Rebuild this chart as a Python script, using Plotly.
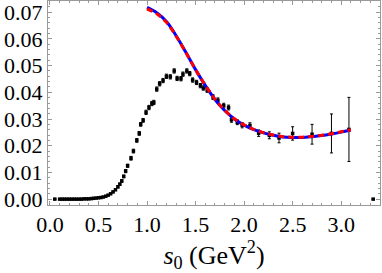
import plotly.graph_objects as go

# Data points (s0 in GeV^2, value, error)
s_data = [0.05, 0.10, 0.125, 0.15, 0.175, 0.20, 0.225, 0.25, 0.275, 0.30, 0.325, 0.35,
          0.375, 0.40, 0.425, 0.45, 0.475, 0.50, 0.525, 0.55, 0.575, 0.60, 0.625, 0.65,
          0.675, 0.70, 0.72, 0.74, 0.76, 0.78, 0.80, 0.835, 0.86, 0.895, 0.92, 0.935,
          0.96, 0.99, 1.02, 1.05, 1.07, 1.10, 1.13, 1.165, 1.20, 1.24, 1.28, 1.31,
          1.35, 1.37, 1.41, 1.44, 1.47, 1.51, 1.55, 1.58, 1.62, 1.68, 1.73, 1.79,
          1.84, 1.87, 1.93, 1.98, 2.06, 2.15, 2.26, 2.36, 2.50, 2.70, 2.90, 3.08, 3.33]
y_data = [0.0, 0.0, 0.0, 0.0, 0.0, 0.0, 0.0, 0.0, 0.0, 0.0, 0.0, 0.0001,
          0.0001, 0.0001, 0.0002, 0.0003, 0.0004, 0.0005, 0.0006, 0.0008, 0.0011, 0.0015, 0.0020, 0.0027,
          0.0035, 0.0046, 0.0056, 0.0068, 0.0085, 0.0105, 0.0125, 0.0153, 0.0180, 0.0220, 0.0246, 0.0280,
          0.0295, 0.0325, 0.0343, 0.0358, 0.0362, 0.0412, 0.0432, 0.0444, 0.0460, 0.0458, 0.0480, 0.0452,
          0.0451, 0.0468, 0.0480, 0.0470, 0.0446, 0.0437, 0.0425, 0.0416, 0.0408, 0.0382, 0.0370, 0.0350,
          0.0343, 0.0297, 0.0288, 0.0277, 0.0276, 0.0247, 0.0239, 0.0229, 0.0246, 0.0243, 0.0246, 0.0261, 0.0]
e_data = [0.0, 0.0001, 0.0001, 0.0001, 0.0001, 0.0001, 0.0001, 0.0001, 0.0001, 0.0001, 0.0001, 0.0001,
          0.0001, 0.0001, 0.0001, 0.0001, 0.0001, 0.0001, 0.0001, 0.0002, 0.0002, 0.0002, 0.0002, 0.0003,
          0.0003, 0.0004, 0.0004, 0.0005, 0.0005, 0.0006, 0.0006, 0.0007, 0.0007, 0.0007, 0.0007, 0.0007,
          0.0007, 0.0008, 0.0008, 0.0008, 0.0008, 0.0008, 0.0008, 0.0008, 0.0008, 0.0008, 0.0008, 0.0008,
          0.0008, 0.0008, 0.0008, 0.0008, 0.0008, 0.0008, 0.0008, 0.0008, 0.0008, 0.0009, 0.0009, 0.0009,
          0.0009, 0.0009, 0.0009, 0.0010, 0.0010, 0.0012, 0.0013, 0.0018, 0.0025, 0.0037, 0.0073, 0.0120, 0.0]

# Fit curves
s_fit = [1.0, 1.1, 1.2, 1.3, 1.4, 1.5, 1.6, 1.7, 1.8, 1.9, 2.0, 2.1, 2.2, 2.3, 2.4, 2.5,
         2.6, 2.7, 2.8, 2.9, 3.0, 3.1]
y_blue = [0.0718, 0.0698, 0.0665, 0.0612, 0.0550, 0.0485, 0.0426, 0.0373, 0.0332, 0.0300, 0.0277,
          0.0260, 0.0248, 0.0239, 0.0233, 0.0231, 0.0231, 0.0234, 0.0238, 0.0244, 0.0251, 0.0259]
y_red = [0.0712, 0.0694, 0.0662, 0.0610, 0.0549, 0.0485, 0.0427, 0.0374, 0.0333, 0.0301, 0.0278,
         0.0261, 0.0249, 0.0240, 0.0234, 0.0232, 0.0232, 0.0235, 0.0239, 0.0245, 0.0252, 0.0260]

x_tickvals = [0.0, 0.5, 1.0, 1.5, 2.0, 2.5, 3.0]
x_ticktext = ["0.0", "0.5", "1.0", "1.5", "2.0", "2.5", "3.0"]
y_tickvals = [0.0, 0.01, 0.02, 0.03, 0.04, 0.05, 0.06, 0.07]
y_ticktext = ["0.00", "0.01", "0.02", "0.03", "0.04", "0.05", "0.06", "0.07"]

FAMILY = "Liberation Serif"
TICKFONT = dict(family=FAMILY, size=22, color="black")

fig = go.Figure()
fig.add_trace(go.Scatter(
    x=s_data, y=y_data, mode="markers",
    marker=dict(color="black", size=3.5, symbol="square"),
    error_y=dict(type="data", array=e_data, color="black", thickness=1, width=1.5),
    showlegend=False, hoverinfo="skip"))
fig.add_trace(go.Scatter(x=s_fit, y=y_blue, mode="lines", line=dict(color="blue", width=3, shape="spline"),
                         showlegend=False, hoverinfo="skip"))
fig.add_trace(go.Scatter(x=s_fit, y=y_red, mode="lines",
                         line=dict(color="red", width=3, dash="6px,4px", shape="spline"),
                         showlegend=False, hoverinfo="skip"))

fig.update_layout(
    template="none",
    width=382, height=273,
    margin=dict(l=48, r=2, t=1, b=68, pad=0),
    paper_bgcolor="white", plot_bgcolor="white",
    font=dict(family=FAMILY, size=22, color="black"),
)
fig.update_xaxes(
    range=[-0.02, 3.40], tickmode="array", tickvals=x_tickvals, ticktext=x_ticktext,
    tickfont=TICKFONT, automargin=False, ticklabeloverflow="allow",
    showgrid=False, zeroline=False, showline=True, linecolor="#999999", linewidth=1,
    mirror="ticks", ticks="inside", ticklen=4, tickcolor="#999999", tickwidth=1,
    minor=dict(tick0=0, dtick=0.1, ticklen=2, tickcolor="#999999", ticks="inside", showgrid=False),
    title=dict(text="<i>s</i><sub>0</sub> (GeV<sup>2</sup>)", standoff=2),
)
fig.update_yaxes(
    range=[-0.0022, 0.0742], tickmode="array", tickvals=y_tickvals, ticktext=y_ticktext,
    tickfont=TICKFONT, automargin=False, ticklabeloverflow="allow",
    showgrid=False, zeroline=False, showline=True, linecolor="#999999", linewidth=1,
    mirror="ticks", ticks="inside", ticklen=4, tickcolor="#999999", tickwidth=1,
    minor=dict(tick0=0, dtick=0.002, ticklen=2, tickcolor="#999999", ticks="inside", showgrid=False),
)
fig.write_html("out.html", config={"displayModeBar": False, "staticPlot": True},
               post_script="document.body.style.margin='0';document.body.style.padding='0';")
